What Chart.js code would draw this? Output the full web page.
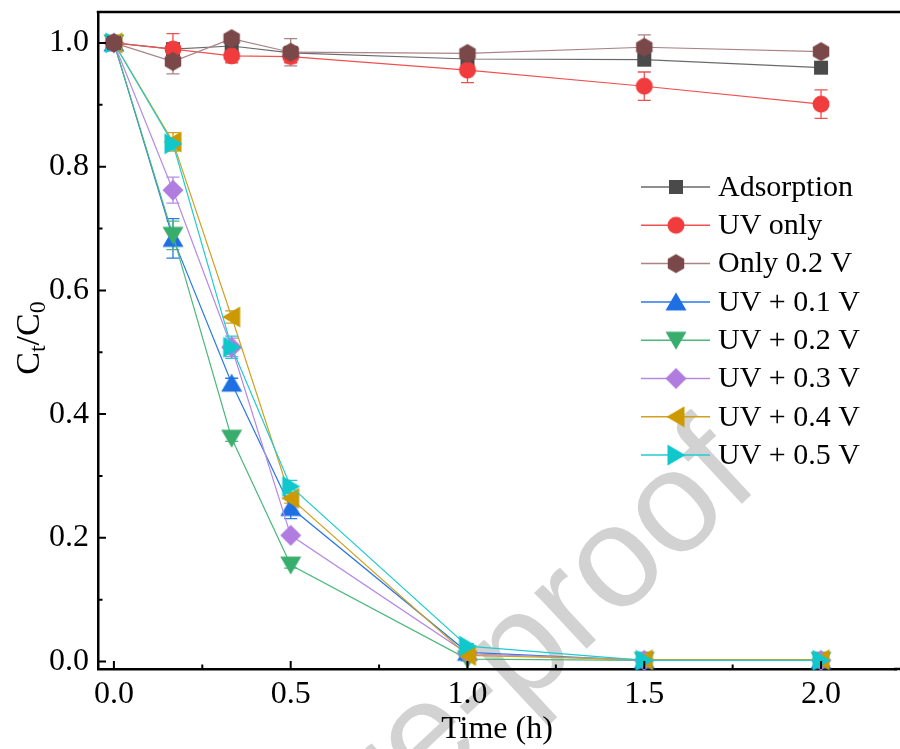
<!DOCTYPE html>
<html>
<head>
<meta charset="utf-8">
<script src="https://cdn.jsdelivr.net/npm/chart.js@4.4.0/dist/chart.umd.min.js"></script>
<style>
  html, body { margin: 0; padding: 0; background: #fff; overflow: hidden; }
  #wrap { width: 900px; height: 749px; }
</style>
</head>
<body>
<div id="wrap"><canvas id="chart" width="900" height="749"></canvas></div>
<script>
// ---- data ----
var times = [0, 0.167, 0.333, 0.5, 1.0, 1.5, 2.0];
var seriesNames = ['Adsorption', 'UV only', 'Only 0.2 V', 'UV + 0.1 V', 'UV + 0.2 V', 'UV + 0.3 V', 'UV + 0.4 V', 'UV + 0.5 V'];

var adsorption = [1.000, 0.990, 0.995, 0.984, 0.974, 0.973, 0.960];
var uvOnly     = [1.000, 0.990, 0.979, 0.978, 0.956, 0.930, 0.901];
var only02V    = [1.000, 0.970, 1.007, 0.985, 0.983, 0.993, 0.986];
var uv01V      = [1.000, 0.684, 0.450, 0.249, 0.015, 0.002, 0.002];
var uv02V      = [1.000, 0.689, 0.361, 0.156, 0.004, 0.002, 0.002];
var uv03V      = [1.000, 0.762, 0.508, 0.204, 0.013, 0.002, 0.002];
var uv04V      = [1.000, 0.840, 0.557, 0.264, 0.010, 0.003, 0.003];
var uv05V      = [1.000, 0.837, 0.508, 0.283, 0.025, 0.002, 0.002];

// error bars (± C/C0)
var errAdsorption = [0, 0.008, 0.010, 0.005, 0.004, 0.004, 0.004];
var errUvOnly     = [0, 0.025, 0.011, 0.010, 0.020, 0.023, 0.023];
var errOnly02V    = [0, 0.020, 0.008, 0.022, 0.005, 0.020, 0.005];
var errUv01V      = [0, 0.032, 0.008, 0.018, 0.005, 0.002, 0.002];
var errUv02V      = [0, 0.023, 0.005, 0.005, 0.003, 0.002, 0.002];
var errUv03V      = [0, 0.021, 0.015, 0.005, 0.004, 0.002, 0.002];
var errUv04V      = [0, 0.015, 0.010, 0.008, 0.004, 0.002, 0.002];
var errUv05V      = [0, 0.010, 0.018, 0.010, 0.004, 0.002, 0.002];

var xTicks = [0, 0.5, 1.0, 1.5, 2.0];
var xMinorTicks = [0.25, 0.75, 1.25, 1.75];
var yTicks = [0, 0.2, 0.4, 0.6, 0.8, 1.0];
var yMinorTicks = [0.1, 0.3, 0.5, 0.7, 0.9];

// ---- styles ----
var markerColors = ['#4a4a4a', '#f03c3c', '#7a4848', '#1e6fe3', '#38ad6c', '#b07ce0', '#cc9900', '#10c8cc'];
var lineColors   = ['#6a6a6a', '#f05050', '#aa8484', '#2a78e6', '#4cb87c', '#b68ae4', '#d1a020', '#20ccd0'];
var shapes = ['square', 'circle', 'hexagon', 'triUp', 'triDown', 'diamond', 'triLeft', 'triRight'];

var SERIF = '"Liberation Serif", "Times New Roman", serif';

function makeMarker(kind, color) {
  var s = 22;
  var c = document.createElement('canvas');
  c.width = s; c.height = s;
  var g = c.getContext('2d');
  g.fillStyle = color;
  g.translate(s / 2, s / 2);
  g.beginPath();
  if (kind === 'square') {
    g.rect(-7, -7, 14, 14);
  } else if (kind === 'circle') {
    g.arc(0, 0, 8.5, 0, Math.PI * 2);
  } else if (kind === 'hexagon') {
    for (var i = 0; i < 6; i++) {
      var a = -Math.PI / 2 + i * Math.PI / 3;
      g.lineTo(9.5 * Math.cos(a), 9.5 * Math.sin(a));
    }
  } else if (kind === 'triUp') {
    g.moveTo(0, -9.5); g.lineTo(10.5, 8.5); g.lineTo(-10.5, 8.5);
  } else if (kind === 'triDown') {
    g.moveTo(0, 9.5); g.lineTo(10.5, -8.5); g.lineTo(-10.5, -8.5);
  } else if (kind === 'diamond') {
    g.moveTo(0, -10.5); g.lineTo(10.5, 0); g.lineTo(0, 10.5); g.lineTo(-10.5, 0);
  } else if (kind === 'triLeft') {
    g.moveTo(-9.5, 0); g.lineTo(8.5, -10.5); g.lineTo(8.5, 10.5);
  } else if (kind === 'triRight') {
    g.moveTo(9.5, 0); g.lineTo(-8.5, -10.5); g.lineTo(-8.5, 10.5);
  }
  g.closePath();
  g.fill();
  return c;
}

var allValues = [adsorption, uvOnly, only02V, uv01V, uv02V, uv03V, uv04V, uv05V];
var allErrors = [errAdsorption, errUvOnly, errOnly02V, errUv01V, errUv02V, errUv03V, errUv04V, errUv05V];
var markers = shapes.map(function (k, i) { return makeMarker(k, markerColors[i]); });

var datasets = allValues.map(function (vals, i) {
  return {
    label: seriesNames[i],
    data: vals.map(function (v, j) { return { x: times[j], y: v }; }),
    borderColor: lineColors[i],
    backgroundColor: markerColors[i],
    borderWidth: 1.2,
    pointStyle: markers[i],
    pointRadius: 1,
    pointBorderWidth: 0,
    tension: 0,
    clip: false,
    // later series on top; the three reference curves above all
    order: i < 3 ? 3 - i : 20 - i,
    errors: allErrors[i]
  };
});

// watermark behind everything
var watermark = {
  id: 'watermark',
  beforeDraw: function (chart) {
    var ctx = chart.ctx;
    ctx.save();
    ctx.translate(762, 485);
    ctx.rotate(-43 * Math.PI / 180);
    ctx.font = '145px "Liberation Sans", Arial, sans-serif';
    ctx.fillStyle = '#d2d2d2';
    ctx.textAlign = 'right';
    ctx.textBaseline = 'alphabetic';
    ctx.fillText('Journal Pre-proof', 0, 0);
    ctx.restore();
  }
};

// error bars from the scales
var errorBars = {
  id: 'errorBars',
  beforeDatasetsDraw: function (chart) {
    var ctx = chart.ctx, xs = chart.scales.x, ys = chart.scales.y;
    ctx.save();
    chart.data.datasets.forEach(function (ds) {
      ctx.strokeStyle = ds.borderColor;
      ctx.lineWidth = 1.3;
      ds.data.forEach(function (p, j) {
        var e = ds.errors[j];
        if (!e) return;
        var px = xs.getPixelForValue(p.x);
        var y1 = ys.getPixelForValue(p.y + e), y2 = ys.getPixelForValue(p.y - e);
        ctx.beginPath();
        ctx.moveTo(px, y1); ctx.lineTo(px, y2);
        ctx.moveTo(px - 6.5, y1); ctx.lineTo(px + 6.5, y1);
        ctx.moveTo(px - 6.5, y2); ctx.lineTo(px + 6.5, y2);
        ctx.stroke();
      });
    });
    ctx.restore();
  }
};

// frame top, inward ticks, legend, y title
var decorations = {
  id: 'decorations',
  afterDraw: function (chart) {
    var ctx = chart.ctx, a = chart.chartArea, xs = chart.scales.x, ys = chart.scales.y;
    ctx.save();
    ctx.strokeStyle = '#000';
    ctx.lineWidth = 2.5;
    ctx.beginPath();
    ctx.moveTo(a.left - 1.25, a.top); ctx.lineTo(a.right + 5, a.top);
    ctx.moveTo(a.right - 2, a.bottom); ctx.lineTo(a.right + 5, a.bottom);
    ctx.stroke();

    ctx.lineWidth = 2;
    ctx.beginPath();
    xTicks.forEach(function (v) { var p = xs.getPixelForValue(v); ctx.moveTo(p, a.bottom); ctx.lineTo(p, a.bottom - 8); });
    xMinorTicks.forEach(function (v) { var p = xs.getPixelForValue(v); ctx.moveTo(p, a.bottom); ctx.lineTo(p, a.bottom - 4.5); });
    yTicks.forEach(function (v) { var p = ys.getPixelForValue(v); ctx.moveTo(a.left, p); ctx.lineTo(a.left + 8, p); });
    yMinorTicks.forEach(function (v) { var p = ys.getPixelForValue(v); ctx.moveTo(a.left, p); ctx.lineTo(a.left + 4.5, p); });
    ctx.stroke();

    // legend
    ctx.font = '30px ' + SERIF;
    ctx.fillStyle = '#000';
    ctx.textAlign = 'left';
    ctx.textBaseline = 'middle';
    chart.data.datasets.forEach(function (ds, i) {
      var y = 187 + i * 38.3;
      ctx.strokeStyle = ds.borderColor;
      ctx.lineWidth = 1.5;
      ctx.beginPath(); ctx.moveTo(641, y); ctx.lineTo(710, y); ctx.stroke();
      var m = ds.pointStyle;
      ctx.drawImage(m, 676 - m.width / 2, y - m.height / 2);
      ctx.fillText(ds.label, 718, y + 1);
    });

    // y title C_t/C_0
    ctx.translate(39, 338);
    ctx.rotate(-Math.PI / 2);
    ctx.textBaseline = 'alphabetic';
    var big = '34px ' + SERIF, small = '24px ' + SERIF;
    var parts = [['C', big, 0], ['t', small, 6], ['/C', big, 0], ['0', small, 6]];
    var w = 0;
    parts.forEach(function (p) { ctx.font = p[1]; w += ctx.measureText(p[0]).width; });
    var x = -w / 2;
    parts.forEach(function (p) { ctx.font = p[1]; ctx.fillText(p[0], x, p[2]); x += ctx.measureText(p[0]).width; });
    ctx.restore();
  }
};

new Chart(document.getElementById('chart'), {
  type: 'line',
  data: { datasets: datasets },
  options: {
    responsive: false,
    animation: false,
    events: [],
    layout: { padding: { top: 12, right: 0, left: 0, bottom: 0 } },
    plugins: { legend: { display: false }, tooltip: { enabled: false } },
    scales: {
      x: {
        type: 'linear',
        min: -0.045,
        max: 2.212,
        afterBuildTicks: function (s) { s.ticks = xTicks.map(function (v) { return { value: v }; }); },
        afterFit: function (s) { s.height = 80; s.paddingLeft = 0; s.paddingRight = 0; },
        grid: { display: false, drawTicks: false },
        border: { display: true, color: '#000', width: 2.5 },
        ticks: {
          color: '#000', padding: 6, maxRotation: 0, autoSkip: false,
          font: { family: SERIF, size: 32 },
          callback: function (v) { return v.toFixed(1); }
        },
        title: { display: true, text: 'Time (h)', color: '#000', font: { family: SERIF, size: 32 }, padding: { top: 0, bottom: 0 } }
      },
      y: {
        type: 'linear',
        min: -0.012,
        max: 1.05,
        afterBuildTicks: function (s) { s.ticks = yTicks.map(function (v) { return { value: v }; }); },
        afterFit: function (s) { s.width = 98; s.paddingTop = 0; s.paddingBottom = 0; },
        grid: { display: false, drawTicks: false },
        border: { display: true, color: '#000', width: 2.5 },
        ticks: {
          color: '#000', padding: 9, autoSkip: false,
          font: { family: SERIF, size: 32 },
          callback: function (v) { return v.toFixed(1); }
        }
      }
    }
  },
  plugins: [watermark, errorBars, decorations]
});
</script>
</body>
</html>
